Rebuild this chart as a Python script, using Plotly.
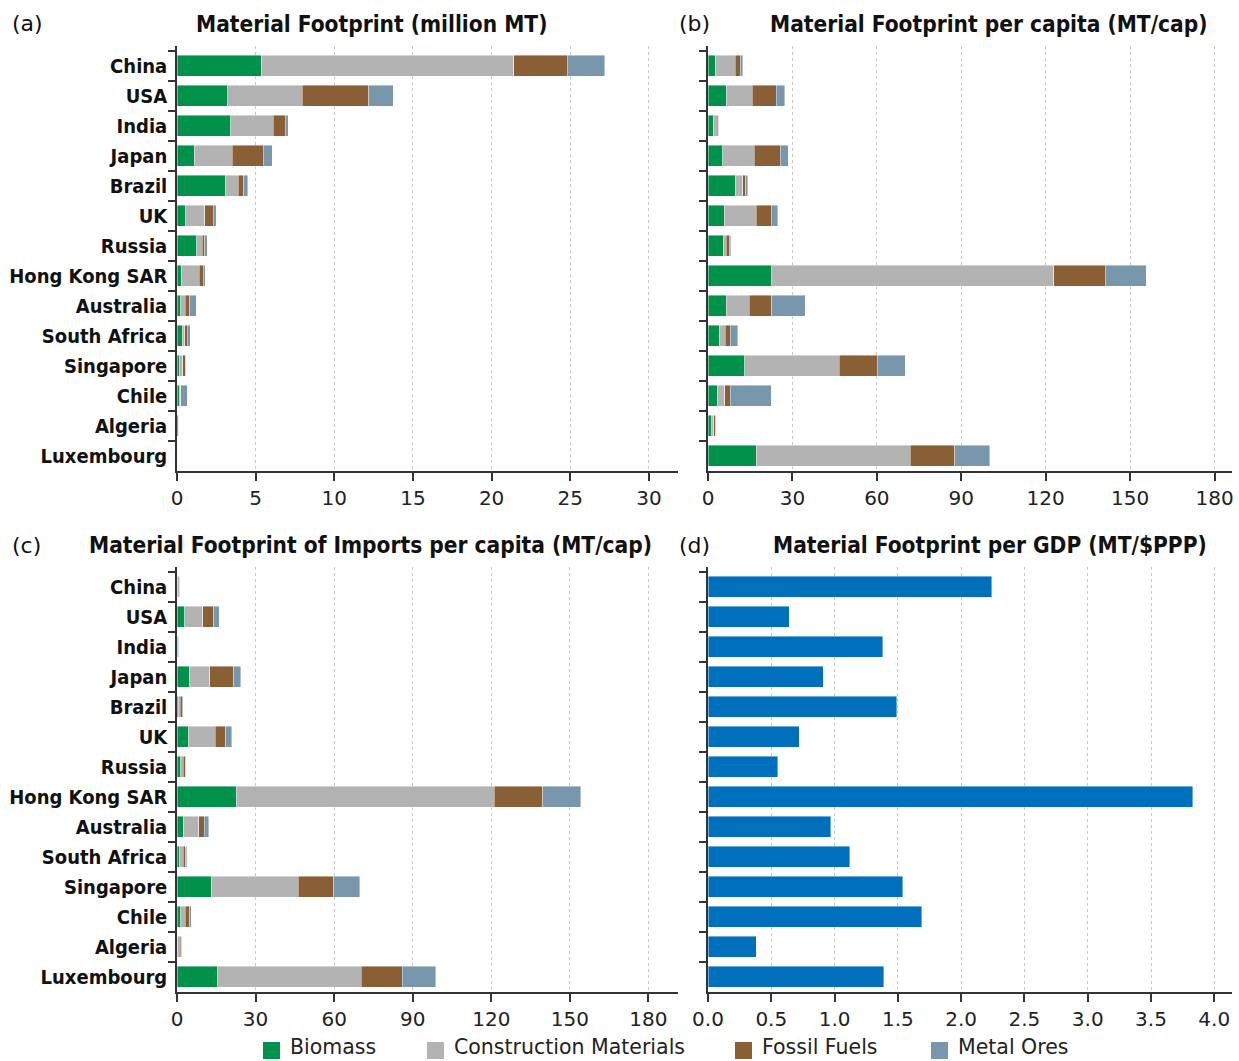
import plotly.graph_objects as go

# --- data -------------------------------------------------------------
countries = ["China", "USA", "India", "Japan", "Brazil", "UK", "Russia",
             "Hong Kong SAR", "Australia", "South Africa", "Singapore",
             "Chile", "Algeria", "Luxembourg"]

material_types = ["Biomass", "Construction Materials", "Fossil Fuels", "Metal Ores"]

# (a) Material footprint, million MT
mf_biomass = [5.34, 3.22, 3.43, 1.10, 3.07, 0.57, 1.27, 0.27, 0.25, 0.34, 0.13, 0.13, 0.08, 0.02]
mf_construction = [16.06, 4.75, 2.69, 2.40, 0.81, 1.19, 0.32, 1.16, 0.28, 0.15, 0.23, 0.08, 0.04, 0.03]
mf_fossil = [3.40, 4.23, 0.75, 1.97, 0.36, 0.53, 0.17, 0.24, 0.28, 0.17, 0.15, 0.04, 0.02, 0.01]
mf_metal = [2.40, 1.55, 0.21, 0.59, 0.27, 0.21, 0.15, 0.13, 0.42, 0.19, 0.06, 0.41, 0.01, 0.01]

# (b) Material footprint per capita, MT/cap
pc_biomass = [2.5, 6.4, 1.9, 5.2, 9.7, 5.7, 5.4, 22.7, 6.5, 4.0, 13.0, 3.3, 1.4, 17.1]
pc_construction = [7.2, 9.4, 1.3, 11.3, 2.6, 11.5, 1.0, 100.1, 8.2, 2.2, 33.7, 2.6, 0.7, 54.8]
pc_fossil = [1.8, 8.4, 0.6, 9.2, 1.1, 5.2, 1.2, 18.4, 8.0, 1.7, 13.5, 2.0, 0.5, 15.7]
pc_metal = [0.8, 3.1, 0.1, 2.9, 0.8, 2.3, 0.5, 14.5, 11.9, 2.7, 9.9, 14.6, 0.1, 12.6]

# (c) Material footprint of imports per capita, MT/cap
imp_biomass = [0.2, 2.9, 0.1, 4.6, 0.5, 4.2, 1.5, 22.6, 2.3, 0.9, 13.0, 1.5, 0.3, 15.6]
imp_construction = [0.6, 6.9, 0.3, 7.9, 0.7, 10.4, 0.8, 98.6, 6.0, 1.5, 33.3, 1.6, 1.0, 54.8]
imp_fossil = [0.2, 4.2, 0.1, 9.1, 0.8, 4.0, 0.8, 18.4, 2.1, 0.9, 13.5, 1.7, 0.3, 15.7]
imp_metal = [0.3, 2.2, 0.1, 2.8, 0.3, 2.3, 0.3, 14.5, 1.8, 0.4, 9.9, 0.7, 0.2, 12.7]

# (d) Material footprint per GDP, MT/$PPP
per_gdp = [2.24, 0.64, 1.38, 0.91, 1.49, 0.72, 0.55, 3.83, 0.97, 1.12, 1.54, 1.69, 0.38, 1.39]

# --- styling ----------------------------------------------------------
colors = ["#00924A", "#B3B3B3", "#8B5F36", "#7897AD"]
gdp_color = "#0070BD"
cond_font = "DejaVu Sans Condensed, Liberation Sans Narrow, Roboto, sans-serif"
reg_font = "DejaVu Sans, Roboto, sans-serif"
W, H = 1239, 1061


def px_x(p):
    return p / W


def px_y(p):
    return 1 - p / H


fig = go.Figure()

panels = [
    ("x", "y", [mf_biomass, mf_construction, mf_fossil, mf_metal]),
    ("x2", "y2", [pc_biomass, pc_construction, pc_fossil, pc_metal]),
    ("x3", "y3", [imp_biomass, imp_construction, imp_fossil, imp_metal]),
]

for xa, ya, series in panels:
    for name, vals, col in zip(material_types, series, colors):
        fig.add_trace(go.Bar(
            x=vals, y=countries, orientation="h", name=name,
            marker=dict(color=col, line=dict(color="rgba(255,255,255,0.7)", width=0.6)),
            width=0.7, xaxis=xa, yaxis=ya, showlegend=False,
        ))

fig.add_trace(go.Bar(
    x=per_gdp, y=countries, orientation="h", name="Material Footprint per GDP",
    marker=dict(color=gdp_color, line=dict(color="rgba(255,255,255,0.7)", width=0.6)),
    width=0.7, xaxis="x4", yaxis="y4", showlegend=False,
))

# axis geometry (pixel positions converted to paper fractions)
dom_x_left = [px_x(177), px_x(678)]
dom_x_right = [px_x(708), px_x(1232)]
dom_y_top = [px_y(471), px_y(46)]
dom_y_bot = [px_y(992), px_y(567)]

tick_font = dict(family=reg_font, size=20, color="#222222")


def xaxis(domain, rng, dtick, anchor, fmt=None):
    d = dict(
        domain=domain, range=rng, dtick=dtick, tick0=0, anchor=anchor,
        showline=True, linecolor="#333333", linewidth=1.5,
        ticks="outside", ticklen=8, tickwidth=1.5, tickcolor="#333333",
        showgrid=True, gridcolor="#C8C8C8", griddash="dot", gridwidth=1,
        zeroline=False, tickfont=tick_font, fixedrange=True, automargin=False,
    )
    if fmt:
        d["tickformat"] = fmt
    return d


def yaxis(domain, anchor, labels):
    return dict(
        domain=domain, anchor=anchor, type="category",
        categoryorder="array", categoryarray=countries,
        range=[13.5, -0.65], showline=True, linecolor="#333333", linewidth=1.5,
        ticks="outside", tickson="boundaries", ticklen=7, tickwidth=1.5,
        tickcolor="#333333", showgrid=False, zeroline=False,
        showticklabels=labels, automargin=False, ticklabelstandoff=4,
        tickfont=dict(family=cond_font, size=20, color="#111111", weight="bold"),
        fixedrange=True,
    )


fig.update_layout(
    width=W, height=H,
    margin=dict(l=0, r=0, t=0, b=0, autoexpand=False),
    paper_bgcolor="white", plot_bgcolor="white",
    barmode="stack", bargap=0.3,
    font=dict(family=reg_font, size=20, color="#111111"),
    xaxis=xaxis(dom_x_left, [0, 31.85], 5, "y"),
    yaxis=yaxis(dom_y_top, "x", True),
    xaxis2=xaxis(dom_x_right, [0, 186.2], 30, "y2"),
    yaxis2=yaxis(dom_y_top, "x2", False),
    xaxis3=xaxis(dom_x_left, [0, 191.3], 30, "y3"),
    yaxis3=yaxis(dom_y_bot, "x3", True),
    xaxis4=xaxis(dom_x_right, [0, 4.14], 0.5, "y4", ".1f"),
    yaxis4=yaxis(dom_y_bot, "x4", False),
    showlegend=False,
)

# panel titles and letters
titles = [
    ("(a)", 10, 24, "left", False),
    ("Material Footprint (million MT)", 371, 24, "center", True),
    ("(b)", 677, 24, "left", False),
    ("Material Footprint per capita (MT/cap)", 988, 24, "center", True),
    ("(c)", 10, 545, "left", False),
    ("Material Footprint of Imports per capita (MT/cap)", 370, 545, "center", True),
    ("(d)", 677, 545, "left", False),
    ("Material Footprint per GDP (MT/$PPP)", 990, 545, "center", True),
]
for text, x, y, anchor, bold in titles:
    fig.add_annotation(
        text=text, x=px_x(x), y=px_y(y), xref="paper", yref="paper",
        xanchor=anchor, yanchor="middle", showarrow=False,
        font=dict(family=cond_font if bold else reg_font, size=22.5 if bold else 22,
                  color="#111111", weight="bold" if bold else "normal"),
    )

# shared legend for the material categories along the bottom edge
legend_left = [263, 427, 735, 931]
for name, col, left in zip(material_types, colors, legend_left):
    fig.add_shape(
        type="rect", xref="paper", yref="paper",
        x0=px_x(left), x1=px_x(left + 17), y0=px_y(1059), y1=px_y(1042),
        fillcolor=col, line=dict(width=0),
    )
    fig.add_annotation(
        text=name, x=px_x(left + 26), y=px_y(1047), xref="paper", yref="paper",
        xanchor="left", yanchor="middle", showarrow=False, borderpad=0,
        font=dict(family=reg_font, size=20.5, color="#222222"),
    )

fig.write_html("out.html")
